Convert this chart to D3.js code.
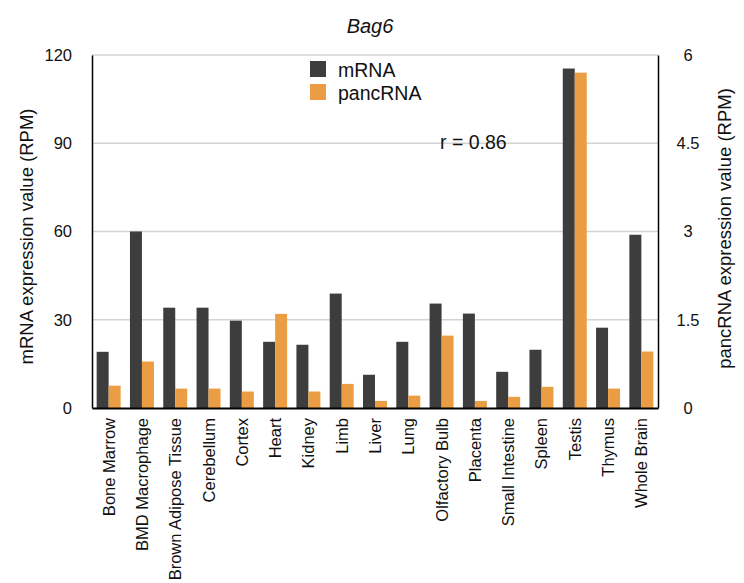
<!DOCTYPE html>
<html>
<head>
<meta charset="utf-8">
<script src="https://cdn.jsdelivr.net/npm/d3@7"></script>
<style>
  body { margin: 0; background: #fff; }
  svg { font-family: "Liberation Sans", Arial, Helvetica, sans-serif; }
</style>
</head>
<body>
<svg id="chart" width="744" height="583"></svg>
<script>
// Tissues shown along the x axis
const tissues = ["Bone Marrow", "BMD Macrophage", "Brown Adipose Tissue", "Cerebellum", "Cortex",
  "Heart", "Kidney", "Limb", "Liver", "Lung", "Olfactory Bulb", "Placenta", "Small Intestine",
  "Spleen", "Testis", "Thymus", "Whole Brain"];

// mRNA expression (RPM), left axis
const mrnaValues = [19.1, 60.0, 34.1, 34.1, 29.7, 22.5, 21.5, 38.9, 11.3, 22.5, 35.5, 32.1, 12.3,
  19.8, 115.4, 27.3, 58.9];

// pancRNA expression (RPM), right axis
const pancValues = [0.38, 0.79, 0.33, 0.33, 0.28, 1.60, 0.28, 0.41, 0.12, 0.21, 1.23, 0.12, 0.19,
  0.36, 5.70, 0.33, 0.96];

const leftTicks = [0, 30, 60, 90, 120];
const rightTicks = [0, 1.5, 3, 4.5, 6];
const seriesNames = ["mRNA", "pancRNA"];
const seriesColors = ["#3d3d3d", "#eb9d43"];

const margin = { left: 92, right: 744 - 658, top: 55, bottom: 583 - 408 };
const W = 744, H = 583;
const svg = d3.select("#chart");

const x = d3.scaleBand().domain(tissues).range([margin.left, W - margin.right]).paddingInner(0.28).paddingOuter(0.14);
const xs = d3.scaleBand().domain(seriesNames).range([0, x.bandwidth()]);
const yL = d3.scaleLinear().domain([0, 120]).range([H - margin.bottom, margin.top]);
const yR = d3.scaleLinear().domain([0, 6]).range([H - margin.bottom, margin.top]);

// horizontal gridlines
svg.append("g")
  .selectAll("line").data(leftTicks.filter(d => d > 0)).join("line")
  .attr("x1", margin.left).attr("x2", W - margin.right)
  .attr("y1", d => yL(d)).attr("y2", d => yL(d))
  .attr("stroke", "#d4d4d4").attr("stroke-width", 1.5);

// bars
const groups = svg.append("g").selectAll("g").data(tissues).join("g")
  .attr("transform", d => `translate(${x(d)},0)`);
groups.append("rect")
  .attr("x", xs("mRNA")).attr("width", xs.bandwidth())
  .attr("y", (d, i) => yL(mrnaValues[i]))
  .attr("height", (d, i) => yL(0) - yL(mrnaValues[i]))
  .attr("fill", seriesColors[0]);
groups.append("rect")
  .attr("x", xs("pancRNA")).attr("width", xs.bandwidth())
  .attr("y", (d, i) => yR(pancValues[i]))
  .attr("height", (d, i) => yR(0) - yR(pancValues[i]))
  .attr("fill", seriesColors[1]);

// left axis
const leftAxis = svg.append("g").attr("transform", `translate(${margin.left},0)`)
  .call(d3.axisLeft(yL).tickValues(leftTicks).tickSize(0).tickPadding(20));
leftAxis.select(".domain").attr("stroke", "#000").attr("stroke-width", 1.5);
leftAxis.selectAll("text").attr("font-size", 16.5).attr("fill", "#111").attr("font-family", null);

// right axis
const rightAxis = svg.append("g").attr("transform", `translate(${W - margin.right},0)`)
  .call(d3.axisRight(yR).tickValues(rightTicks).tickSize(0).tickPadding(30).tickFormat(d3.format("")));
rightAxis.select(".domain").attr("stroke", "#000").attr("stroke-width", 1.5);
rightAxis.selectAll("text").attr("font-size", 16.5).attr("fill", "#111").attr("font-family", null)
  .attr("text-anchor", "middle");

// bottom axis
const bottomAxis = svg.append("g").attr("transform", `translate(0,${H - margin.bottom})`)
  .call(d3.axisBottom(x).tickSize(0).tickPadding(0));
bottomAxis.select(".domain").attr("stroke", "#000").attr("stroke-width", 2);
bottomAxis.selectAll("text")
  .attr("font-size", 16.5).attr("fill", "#111").attr("font-family", null)
  .attr("text-anchor", "end")
  .attr("dy", null)
  .attr("transform", "translate(6,10) rotate(-90)");

// axis titles
svg.append("text")
  .attr("transform", `translate(33,${(yL(0) + yL(120)) / 2 + 5}) rotate(-90)`)
  .attr("text-anchor", "middle").attr("font-size", 18.5).attr("fill", "#111")
  .text("mRNA expression value (RPM)");
svg.append("text")
  .attr("transform", `translate(731,${(yL(0) + yL(120)) / 2 - 3}) rotate(-90)`)
  .attr("text-anchor", "middle").attr("font-size", 18.5).attr("fill", "#111")
  .text("pancRNA expression value (RPM)");

// title
svg.append("text")
  .attr("x", 370).attr("y", 33)
  .attr("text-anchor", "middle").attr("font-size", 20).attr("font-style", "italic").attr("fill", "#111")
  .text("Bag6");

// legend
const legend = svg.append("g").selectAll("g").data(seriesNames).join("g")
  .attr("transform", (d, i) => `translate(310,${61 + i * 23})`);
legend.append("rect").attr("width", 16).attr("height", 16).attr("fill", (d, i) => seriesColors[i]);
legend.append("text").attr("x", 28).attr("y", 16).attr("font-size", 19.5).attr("fill", "#111").text(d => d);

// correlation annotation
svg.append("text")
  .attr("x", 440).attr("y", 149)
  .attr("font-size", 19.5).attr("fill", "#111")
  .text("r = 0.86");
</script>
</body>
</html>
